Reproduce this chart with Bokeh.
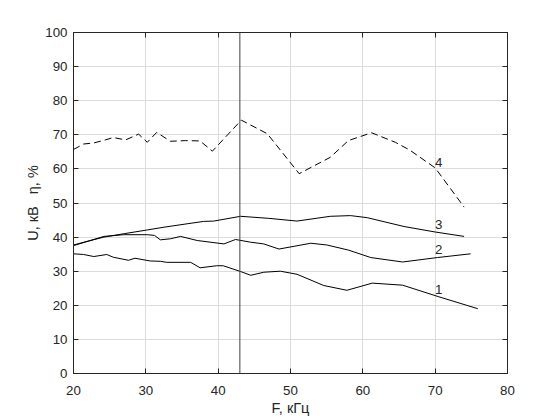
from bokeh.plotting import figure
from bokeh.models import LinearAxis, FixedTicker, Range1d, Span, ColumnDataSource
from bokeh.core.properties import value
from bokeh.embed import file_html
from bokeh.resources import INLINE

# Curve 1
x1 = [20, 21.4, 22.8, 24.6, 25.5, 27.6, 28.5, 30.6, 32, 32.9, 36.2, 37.5, 39.8, 40.7,
      43.1, 44.5, 46.3, 48.6, 50.9, 54.6, 57.8, 61.3, 65.5, 70.5, 75.9]
y1 = [35.1, 34.9, 34.3, 34.9, 34.1, 33.2, 33.8, 33.0, 32.9, 32.6, 32.6, 31.0, 31.6, 31.6,
      29.9, 28.8, 29.7, 30.0, 29.1, 25.8, 24.4, 26.5, 25.9, 22.5, 19.0]
# Curve 2
x2 = [20, 22, 24.2, 26.9, 30.2, 31.2, 32, 33.4, 34.8, 37.1, 40.8, 42.4, 44.5, 46.3,
      48.4, 50.5, 52.8, 55, 58, 61.1, 65.5, 70.3, 74.9]
y2 = [37.5, 38.8, 40.2, 40.7, 40.7, 40.5, 39.2, 39.5, 40.2, 39.0, 38.0, 39.3, 38.5, 38.0,
      36.5, 37.3, 38.2, 37.7, 36.2, 34.0, 32.7, 34.0, 35.1]
# Curve 3
x3 = [20, 24.2, 27, 30.2, 32.5, 35.7, 38, 39.4, 43.1, 47, 50.9, 55.5, 58.3, 60.6, 65.7, 70, 74]
y3 = [37.7, 40.0, 41.0, 42.1, 42.9, 43.9, 44.6, 44.7, 46.1, 45.5, 44.7, 46.1, 46.3, 45.7,
      43.1, 41.5, 40.2]
# Curve 4 (dashed)
x4 = [20, 21.4, 22.8, 24.4, 25.5, 27.2, 29, 30.2, 31.5, 33.4, 35.5, 37.5, 39.2, 43.2,
      46.8, 51.2, 55.5, 58, 61.2, 64.5, 66.5, 70, 74]
y4 = [65.7, 67.3, 67.6, 68.5, 69.2, 68.5, 70.2, 67.8, 70.7, 68.1, 68.3, 68.2, 65.2, 74.3,
      70.3, 58.6, 63.4, 68.3, 70.6, 67.8, 65.5, 60.3, 48.8]

curve_labels = ["1", "2", "3", "4"]
label_x = [70.5, 70.5, 70.5, 70.5]
label_y = [24.6, 36.4, 43.6, 61.8]

marker_x = 43
x_ticks = [20, 30, 40, 50, 60, 70, 80]
y_ticks = [0, 10, 20, 30, 40, 50, 60, 70, 80, 90, 100]

FONT = "Liberation Sans"
TXT = "#262626"

p = figure(frame_width=434, frame_height=341,
           min_border_left=73, min_border_right=45, min_border_top=32, min_border_bottom=44,
           x_range=Range1d(20, 80), y_range=Range1d(0, 100),
           output_backend="svg", toolbar_location=None,
           background_fill_color="white", border_fill_color="white")

p.xaxis.ticker = FixedTicker(ticks=x_ticks)
p.yaxis.ticker = FixedTicker(ticks=y_ticks)
p.xgrid.ticker = FixedTicker(ticks=x_ticks)
p.ygrid.ticker = FixedTicker(ticks=y_ticks)
p.grid.grid_line_color = "#dcdcdc"
p.grid.grid_line_width = 1

for ax in [p.xaxis[0], p.yaxis[0]]:
    ax.major_tick_in = 5
    ax.major_tick_out = 0
    ax.minor_tick_line_color = None
    ax.axis_line_color = TXT
    ax.major_tick_line_color = TXT
    ax.major_label_text_font = FONT
    ax.major_label_text_font_size = "13.3px"
    ax.major_label_text_color = TXT
    ax.axis_label_text_font = FONT
    ax.axis_label_text_font_size = "14.5px"
    ax.axis_label_text_font_style = "normal"
    ax.axis_label_text_color = TXT

p.xaxis.major_label_standoff = 12
p.xaxis.axis_label = "F, кГц"
p.xaxis.axis_label_standoff = 2
p.yaxis.major_label_standoff = 6
p.yaxis.axis_label = "U, кВ\u00a0\u00a0\u00a0η, %"
p.yaxis.axis_label_standoff = 1

top = LinearAxis(ticker=FixedTicker(ticks=x_ticks), major_tick_in=5, major_tick_out=0,
                 minor_tick_line_color=None, axis_line_color=TXT, major_tick_line_color=TXT,
                 major_label_overrides={t: "" for t in x_ticks}, major_label_standoff=0)
right = LinearAxis(ticker=FixedTicker(ticks=y_ticks), major_tick_in=5, major_tick_out=0,
                   minor_tick_line_color=None, axis_line_color=TXT, major_tick_line_color=TXT,
                   major_label_overrides={t: "" for t in y_ticks}, major_label_standoff=0)
p.add_layout(top, "above")
p.add_layout(right, "right")
p.outline_line_color = TXT

p.add_layout(Span(location=marker_x, dimension="height", line_color="#404040", line_width=1))

p.line(x1, y1, line_color="black", line_width=1)
p.line(x2, y2, line_color="black", line_width=1)
p.line(x3, y3, line_color="black", line_width=1)
p.line(x4, y4, line_color="black", line_width=1, line_dash="7 4")

src = ColumnDataSource(dict(x=label_x, y=label_y, t=curve_labels))
p.text(x="x", y="y", text="t", source=src, text_align="center", text_baseline="middle",
       text_font=value(FONT), text_font_size="13.3px", text_color=TXT)

open("out.html", "w").write(file_html(p, INLINE))
